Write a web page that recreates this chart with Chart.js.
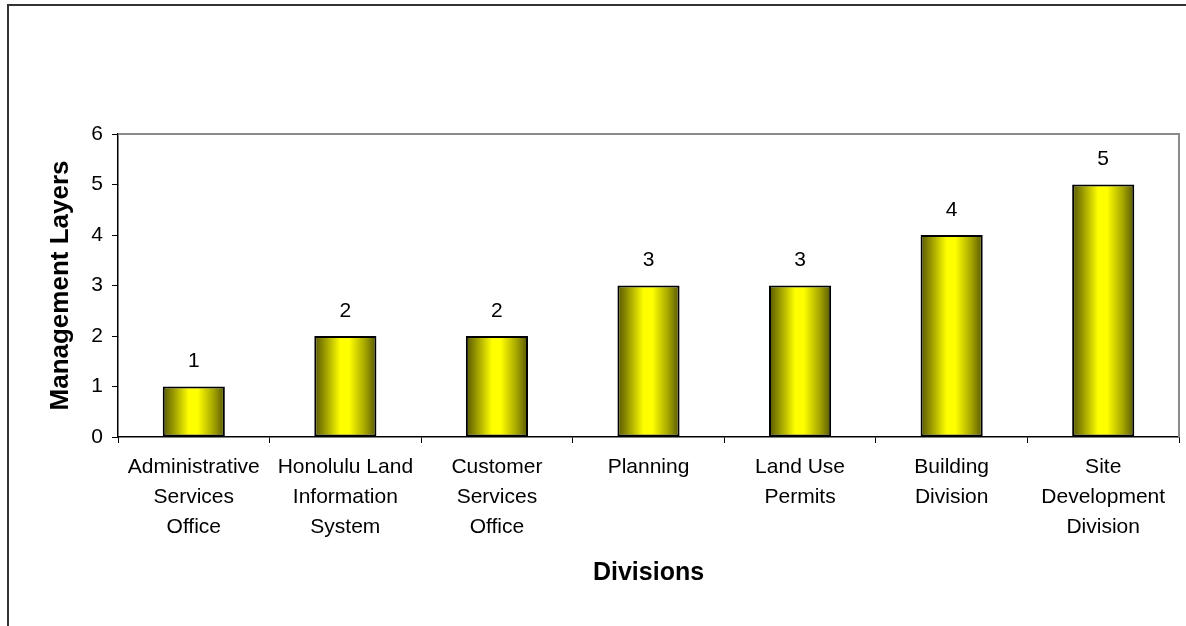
<!DOCTYPE html>
<html>
<head>
<meta charset="utf-8">
<script src="https://cdn.jsdelivr.net/npm/chart.js@4/dist/chart.umd.min.js"></script>
<style>
  html, body { margin: 0; padding: 0; background: #fff; }
  #wrap { position: relative; width: 1186px; height: 626px; overflow: hidden; }
  /* outer chart frame, only left and top edges sit inside the window */
  #frame {
    position: absolute; left: 7px; top: 4px; width: 1300px; height: 800px;
    border-left: 2px solid #333; border-top: 2px solid #333;
  }
  canvas { position: absolute; left: 0; top: 0; }
</style>
</head>
<body>
<div id="wrap">
  <div id="frame"></div>
  <canvas id="chart" width="1186" height="626"></canvas>
</div>
<script>
const divisions = [
  ['Administrative', 'Services', 'Office'],
  ['Honolulu Land', 'Information', 'System'],
  ['Customer', 'Services', 'Office'],
  ['Planning'],
  ['Land Use', 'Permits'],
  ['Building', 'Division'],
  ['Site', 'Development', 'Division'],
];
const managementLayers = [1, 2, 2, 3, 3, 4, 5];
const yTicks = [0, 1, 2, 3, 4, 5, 6];

const FONT = '"Liberation Sans", Arial, sans-serif';
const BAR_PCT = 0.41;

// cylinder-like shading across each bar
function barGradient(context) {
  const chart = context.chart;
  const xScale = chart.scales.x;
  if (!xScale || !chart.chartArea) return '#e0e000';
  const center = xScale.getPixelForValue(context.dataIndex);
  const catWidth = xScale.width / divisions.length;
  const half = (catWidth * BAR_PCT) / 2;
  const g = chart.ctx.createLinearGradient(center - half, 0, center + half, 0);
  g.addColorStop(0, '#565600');
  g.addColorStop(0.18, '#9c9c00');
  g.addColorStop(0.42, '#ffff00');
  g.addColorStop(0.56, '#ffff00');
  g.addColorStop(0.82, '#a4a400');
  g.addColorStop(1, '#565600');
  return g;
}

// gray border on top and right of the plot area
const plotFrame = {
  id: 'plotFrame',
  beforeDatasetsDraw(chart) {
    const { ctx, chartArea: a } = chart;
    ctx.save();
    ctx.strokeStyle = '#8a8a8a';
    ctx.lineWidth = 2;
    ctx.beginPath();
    ctx.moveTo(a.left, a.top);
    ctx.lineTo(a.right, a.top);
    ctx.lineTo(a.right, a.bottom);
    ctx.stroke();
    ctx.restore();
  },
};

// value printed above each bar
const valueLabels = {
  id: 'valueLabels',
  afterDatasetsDraw(chart) {
    const { ctx } = chart;
    const meta = chart.getDatasetMeta(0);
    ctx.save();
    ctx.font = '21px ' + FONT;
    ctx.fillStyle = '#000';
    ctx.textAlign = 'center';
    ctx.textBaseline = 'middle';
    meta.data.forEach((bar, i) => {
      ctx.fillText(String(managementLayers[i]), bar.x, bar.y - 25);
    });
    ctx.restore();
  },
};

new Chart(document.getElementById('chart'), {
  type: 'bar',
  data: {
    labels: divisions,
    datasets: [{
      data: managementLayers,
      backgroundColor: barGradient,
      borderColor: '#000',
      borderWidth: 2,
      borderSkipped: false,
      categoryPercentage: 1,
      barPercentage: BAR_PCT,
    }],
  },
  options: {
    responsive: false,
    animation: false,
    events: [],
    layout: { padding: { left: 10, top: 134, right: 7, bottom: 0 } },
    plugins: {
      legend: { display: false },
      tooltip: { enabled: false },
    },
    scales: {
      x: {
        afterFit(scale) { scale.height = 189; },
        grid: {
          drawOnChartArea: false,
          tickLength: 6,
          color: '#000',
          offset: true,
        },
        border: { color: '#000', width: 1.5 },
        ticks: {
          color: '#000',
          padding: 9,
          maxRotation: 0,
          autoSkip: false,
          font: { family: FONT, size: 21, lineHeight: 30 / 21 },
        },
        title: {
          display: true,
          text: 'Divisions',
          color: '#000',
          padding: { top: 0, bottom: 38 },
          font: { family: FONT, size: 25, weight: 'bold' },
        },
      },
      y: {
        min: 0,
        max: 6,
        afterFit(scale) { scale.width = 108; },
        afterBuildTicks(scale) { scale.ticks = yTicks.map(v => ({ value: v })); },
        grid: {
          drawOnChartArea: false,
          tickLength: 6,
          color: '#000',
        },
        border: { color: '#000', width: 1.5 },
        ticks: {
          color: '#000',
          padding: 9,
          font: { family: FONT, size: 21 },
        },
        title: {
          display: true,
          text: 'Management Layers',
          color: '#000',
          padding: { top: 35, bottom: 0 },
          font: { family: FONT, size: 26, weight: 'bold' },
        },
      },
    },
  },
  plugins: [plotFrame, valueLabels],
});
</script>
</body>
</html>
